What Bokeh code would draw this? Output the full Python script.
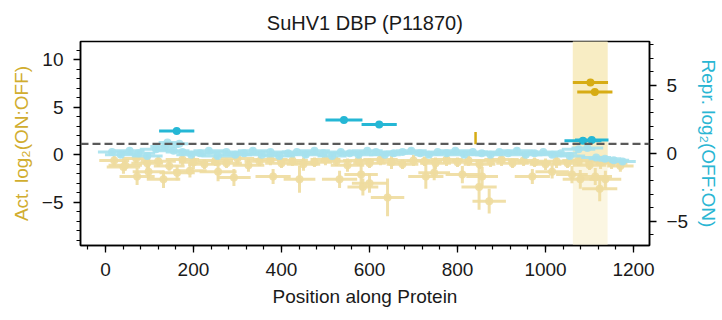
import numpy as np
from bokeh.plotting import figure
from bokeh.models import Range1d, LinearAxis, SingleIntervalTicker, CustomJSTickFormatter, Span
from bokeh.embed import file_html
from bokeh.resources import INLINE

# ---------------- data ----------------
title_text = "SuHV1 DBP (P11870)"
x_label = "Position along Protein"
left_label = "Act. log\u2082(ON:OFF)"
right_label = "Repr. log\u2082(OFF:ON)"

# activation (left axis), non-significant tiles
act_pos = [20, 45, 70, 95, 120, 145, 175, 200, 225, 250, 275, 300, 325, 350, 375, 400,
           425, 450, 475, 500, 525, 550, 575, 600, 625, 650, 675, 700, 725, 750, 775, 800,
           825, 850, 875, 900, 925, 950, 975, 1000, 1025, 1050, 1075, 1100, 1125, 1150, 1170,
           41, 72, 98, 132, 163, 192, 256, 292, 381, 441, 532, 581, 585, 600, 641, 728,
           747, 811, 849, 856, 872, 970, 1015, 1060, 1079, 1113, 1123, 1136]
act_val = [-0.6, -1.1, -0.4, -0.9, -0.7, -1.2, -0.5, -0.8, -1.0, -0.6, -0.9, -0.4, -1.1, -0.7, -0.5, -0.9,
           -0.6, -1.0, -0.8, -0.5, -0.7, -1.1, -0.6, -0.9, -0.5, -0.8, -1.0, -0.6, -0.7, -0.9, -0.5, -0.8,
           -0.6, -1.0, -0.7, -0.5, -0.9, -0.6, -0.8, -1.0, -0.7, -0.9, -0.6, -1.1, -0.8, -0.9, -1.2,
           -1.3, -2.3, -1.8, -2.6, -1.9, -1.7, -1.8, -2.4, -2.3, -2.6, -2.6, -2.1, -3.4, -3.0, -4.5, -2.3,
           -1.9, -2.1, -3.4, -2.3, -4.9, -2.3, -1.8, -2.1, -2.6, -2.3, -3.6, -2.6]
act_xerr = [34, 38, 32, 36, 40, 35, 38, 33, 37, 40, 35, 38, 36, 34, 39, 37,
            35, 38, 40, 34, 36, 38, 35, 37, 39, 34, 36, 38, 40, 35, 37, 33,
            38, 36, 34, 39, 37, 35, 38, 36, 40, 34, 37, 38, 35, 36, 30,
            38, 40, 36, 38, 40, 38, 42, 38, 40, 36, 40, 38, 35, 40, 38, 40,
            36, 38, 40, 36, 38, 40, 38, 36, 40, 38, 40, 36]
act_yerr = [0.5, 0.6, 0.5, 0.7, 0.6, 0.5, 0.6, 0.7, 0.5, 0.6, 0.5, 0.6, 0.7, 0.5, 0.6, 0.5,
            0.6, 0.7, 0.5, 0.6, 0.5, 0.7, 0.6, 0.5, 0.6, 0.7, 0.5, 0.6, 0.5, 0.6, 0.7, 0.5,
            0.6, 0.5, 0.6, 0.7, 0.5, 0.6, 0.5, 0.6, 0.7, 0.5, 0.6, 0.5, 0.7, 0.6, 0.6,
            0.7, 0.9, 0.8, 0.9, 0.8, 0.7, 1.0, 0.9, 0.8, 1.4, 0.9, 1.6, 0.9, 1.0, 2.0, 1.3,
            0.8, 0.9, 2.4, 1.0, 1.3, 0.8, 0.7, 0.9, 1.0, 0.9, 1.3, 0.9]

# activation hits
act_hit_pos = [1102, 1112]
act_hit_val = [7.6, 6.6]
act_hit_xerr = [40, 40]
act_hit_yerr = [0.2, 0.2]
# significant error-bar fragment without marker
act_frag_pos = [841]
act_frag_lo = [1.1]
act_frag_hi = [2.4]

# repression (right axis), non-significant tiles
rep_pos = [15, 35, 55, 75, 95, 115, 135, 155, 175, 195, 215, 235, 255, 275, 295, 315,
           335, 355, 375, 395, 415, 435, 455, 475, 495, 515, 535, 555, 575, 595, 615, 635,
           655, 675, 695, 715, 735, 755, 775, 795, 815, 835, 855, 875, 895, 915, 935, 955,
           975, 995, 1015, 1035, 1055, 1075, 1095, 1115, 1135, 1155, 1175, 141, 168]
rep_val = [0.1, -0.1, 0.2, 0.0, -0.2, 0.3, 0.5, 0.2, 0.1, -0.1, 0.0, 0.2, -0.2, 0.1, -0.1, 0.0,
           0.2, -0.1, 0.1, -0.2, 0.0, 0.1, -0.1, 0.2, 0.0, -0.2, 0.1, 0.0, -0.1, 0.2, 0.1, -0.1,
           0.0, 0.1, 0.2, 0.0, -0.1, 0.1, 0.0, 0.2, -0.1, 0.1, 0.0, -0.1, 0.1, 0.0, 0.2, -0.1,
           0.0, 0.1, -0.1, 0.0, -0.2, 0.3, 0.4, -0.3, -0.4, -0.5, -0.6, 0.8, 0.7]
rep_xerr = [32, 36, 34, 38, 35, 37, 33, 36, 38, 34, 36, 35, 37, 33, 38, 36,
            34, 37, 35, 36, 38, 34, 36, 35, 37, 33, 36, 38, 34, 35, 37, 36,
            34, 38, 35, 36, 33, 37, 35, 36, 38, 34, 36, 35, 37, 34, 36, 38,
            35, 36, 34, 37, 35, 38, 36, 34, 37, 35, 30, 20, 20]
rep_yerr = [0.15, 0.2, 0.15, 0.2, 0.15, 0.2, 0.2, 0.15, 0.2, 0.15, 0.2, 0.15, 0.2, 0.15, 0.2, 0.15,
            0.2, 0.15, 0.2, 0.15, 0.2, 0.15, 0.2, 0.15, 0.2, 0.15, 0.2, 0.15, 0.2, 0.15, 0.2, 0.15,
            0.2, 0.15, 0.2, 0.15, 0.2, 0.15, 0.2, 0.15, 0.2, 0.15, 0.2, 0.15, 0.2, 0.15, 0.2, 0.15,
            0.2, 0.15, 0.2, 0.15, 0.2, 0.15, 0.2, 0.15, 0.2, 0.15, 0.2, 0.1, 0.1]

# repression hits
rep_hit_pos = [162, 542, 622, 1085, 1105]
rep_hit_val = [1.64, 2.45, 2.12, 0.93, 0.98]
rep_hit_xerr = [40, 42, 40, 42, 38]
rep_hit_yerr = [0.1, 0.1, 0.1, 0.08, 0.08]

# highlighted region and threshold
region_start = [1062]
region_end = [1141]
region_split = -1.0
threshold = 1.15

x_ticks_interval = 200
y_ticks_interval = 5

# ---------------- styling ----------------
GOLD = "#D7AC14"
GOLD_LIGHT = "#EEDC9E"
CYAN = "#25B7D5"
CYAN_LIGHT = "#A6E1ED"
FONT = "Liberation Sans"
TXT = "#1a1a1a"

x_lo, x_hi = -56.6, 1236.2
yl_lo, yl_hi = -9.57, 11.93
yr_lo, yr_hi = -6.79, 8.24

p = figure(width=722, height=320, output_backend="svg", toolbar_location=None,
           x_range=Range1d(x_lo, x_hi), y_range=Range1d(yl_lo, yl_hi),
           min_border_left=80, min_border_right=71, min_border_top=41, min_border_bottom=75)
p.extra_y_ranges = {"repr": Range1d(yr_lo, yr_hi)}
p.xgrid.visible = False
p.ygrid.visible = False
p.outline_line_color = "black"
p.outline_line_width = 1.5
p.outline_line_alpha = 1.0
p.background_fill_color = "white"
p.border_fill_color = "white"

p.title.text = title_text
p.title.align = "center"
p.title.text_font = FONT
p.title.text_font_size = "20px"
p.title.text_font_style = "normal"
p.title.text_color = TXT
p.title.standoff = 15

# highlighted region
rs = np.array(region_start, dtype=float)
re_ = np.array(region_end, dtype=float)
p.quad(left=rs, right=re_, bottom=[yl_lo], top=[yl_hi], fill_color="#FBF6E2", line_color=None)
p.quad(left=rs, right=re_, bottom=[region_split], top=[yl_hi], fill_color="#F8EDC4", line_color=None)

def errbars(pos, val, xerr, yerr, color, alpha, size, y_range_name="default", lw=3):
    pos = np.array(pos, dtype=float); val = np.array(val, dtype=float)
    xerr = np.array(xerr, dtype=float); yerr = np.array(yerr, dtype=float)
    p.segment(x0=pos - xerr, y0=val, x1=pos + xerr, y1=val, line_color=color, line_alpha=alpha,
              line_width=lw, y_range_name=y_range_name)
    p.segment(x0=pos, y0=val - yerr, x1=pos, y1=val + yerr, line_color=color, line_alpha=alpha,
              line_width=lw, y_range_name=y_range_name)
    p.scatter(x=pos, y=val, size=size, fill_color=color, line_color=None, fill_alpha=alpha,
              y_range_name=y_range_name)

errbars(act_pos, act_val, act_xerr, act_yerr, GOLD_LIGHT, 0.9, 8)
errbars(rep_pos, rep_val, rep_xerr, rep_yerr, CYAN_LIGHT, 0.9, 8, "repr")

p.add_layout(Span(location=threshold, dimension="width", line_color="#5a5a5a",
                  line_dash="8 4", line_width=2.2))

p.segment(x0=act_frag_pos, y0=act_frag_lo, x1=act_frag_pos, y1=act_frag_hi,
          line_color=GOLD, line_width=2.5)
errbars(act_hit_pos, act_hit_val, act_hit_xerr, act_hit_yerr, GOLD, 1.0, 8)
errbars(rep_hit_pos, rep_hit_val, rep_hit_xerr, rep_hit_yerr, CYAN, 1.0, 8, "repr")

# axes
right_axis = LinearAxis(y_range_name="repr")
p.add_layout(right_axis, "right")

fmt_code = "return (tick < 0 ? '\\u2212' : '') + Math.abs(tick).toString();"

def style_axis(ax, interval):
    ax.ticker = SingleIntervalTicker(interval=interval, num_minor_ticks=5)
    ax.formatter = CustomJSTickFormatter(code=fmt_code)
    ax.axis_line_color = "black"
    ax.axis_line_width = 1.5
    ax.major_tick_out = 7
    ax.major_tick_in = 0
    ax.minor_tick_out = 4
    ax.minor_tick_in = 0
    ax.major_tick_line_width = 1.3
    ax.minor_tick_line_width = 1.2
    ax.major_tick_line_color = "black"
    ax.minor_tick_line_color = "black"
    ax.major_label_text_font = FONT
    ax.major_label_text_font_size = "19px"
    ax.major_label_text_color = TXT
    ax.major_label_standoff = 10
    ax.axis_label_text_font = FONT
    ax.axis_label_text_font_size = "19px"
    ax.axis_label_text_font_style = "normal"
    ax.axis_label_standoff = 7

xa = p.xaxis[0]
style_axis(xa, x_ticks_interval)
xa.axis_label = x_label
xa.axis_label_text_color = TXT

ya = p.yaxis[0]
style_axis(ya, y_ticks_interval)
ya.axis_label = left_label
ya.axis_label_text_color = "#D1AD2F"

style_axis(right_axis, y_ticks_interval)
right_axis.axis_label = right_label
right_axis.axis_label_text_color = "#2AB6D3"

open("out.html", "w").write(file_html(p, INLINE))
